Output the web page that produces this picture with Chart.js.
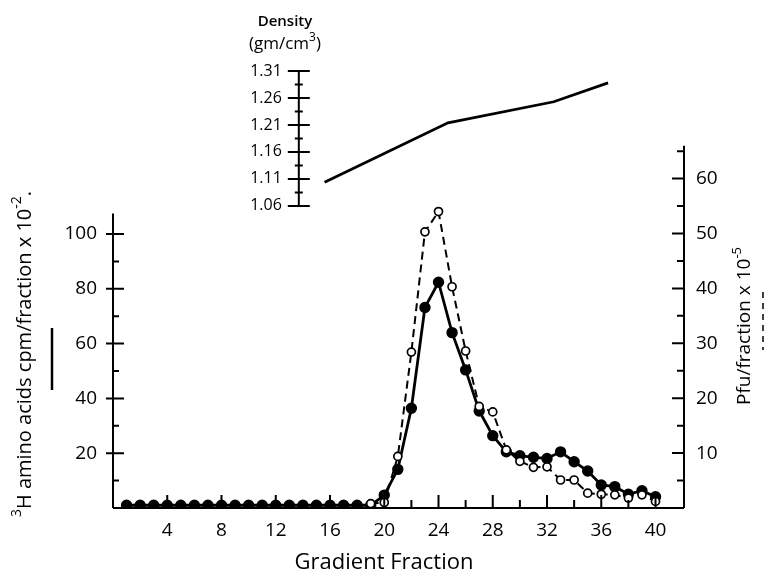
<!DOCTYPE html>
<html>
<head>
<meta charset="utf-8">
<script src="https://cdn.jsdelivr.net/npm/chart.js@4"></script>
<style>
  body { margin: 0; background: #fff; }
  canvas { display: block; }
</style>
</head>
<body>
<canvas id="chart1" width="767" height="571"></canvas>
<script>
// gradient fractions 1..40
const fractions = [1,2,3,4,5,6,7,8,9,10,11,12,13,14,15,16,17,18,19,20,21,22,23,24,25,26,27,28,29,30,31,32,33,34,35,36,37,38,39,40];
// 3H amino acids cpm/fraction x 10^-2 (solid, filled circles)
const cpm = [1,1,1,1,1,1,1,1,1,1,1,1,1,1,1,1,1,1,1,4.7,14.1,36.4,73.2,82.4,64.0,50.4,35.4,26.4,20.5,19.1,18.5,18.1,20.5,16.9,13.5,8.4,7.8,5.0,6.3,4.1];
// Pfu/fraction x 10^-5 (dashed, open circles)
const pfu = [null,null,null,null,null,null,null,null,null,null,null,null,null,null,null,null,null,null,0.8,1.0,9.4,28.4,50.3,54.0,40.3,28.6,18.5,17.5,10.6,8.5,7.4,7.5,5.1,5.1,2.7,2.5,2.4,1.8,2.4,1.2];
// density curve
const densityFractions = [15.6, 24.7, 32.5, 36.5];
const densityValues = [1.104, 1.214, 1.253, 1.288];

const xTicks = [4,8,12,16,20,24,28,32,36,40];
const leftTicks = [20,40,60,80,100];
const rightTicks = [10,20,30,40,50,60];
const densityTicks = [1.06,1.11,1.16,1.21,1.26,1.31];

const FONT = "'Open Sans', 'DejaVu Sans', sans-serif";

function pts(xs, ys) {
  return xs.map((x, i) => ({x: x, y: ys[i]}));
}

// draw text with superscript parts, centred at (0,0) of current transform
function drawRich(ctx, parts, size) {
  let total = 0;
  const widths = parts.map(p => {
    ctx.font = (p.sup ? Math.round(size * 0.7) : size) + "px " + FONT;
    const w = ctx.measureText(p.t).width;
    total += w;
    return w;
  });
  let x = -total / 2;
  parts.forEach((p, i) => {
    ctx.font = (p.sup ? Math.round(size * 0.7) : size) + "px " + FONT;
    ctx.fillText(p.t, x, p.sup ? -size * 0.4 : 0);
    x += widths[i];
  });
}

const frame = {
  id: "frame",
  afterDraw(chart) {
    const ctx = chart.ctx;
    const xs = chart.scales.x, yl = chart.scales.y, yr = chart.scales.y2, yd = chart.scales.yd;
    const area = chart.chartArea;
    ctx.save();
    ctx.strokeStyle = "#000";
    ctx.fillStyle = "#000";
    ctx.lineWidth = 2;
    ctx.lineCap = "butt";

    // x axis
    const y0 = yl.getPixelForValue(0);
    ctx.beginPath();
    ctx.moveTo(area.left, y0); ctx.lineTo(area.right, y0);
    for (let v = 2; v <= 40; v += 2) {
      const px = xs.getPixelForValue(v);
      ctx.moveTo(px, y0); ctx.lineTo(px, y0 - (v % 4 === 0 ? 13 : 8));
    }
    // left axis
    const xl = area.left;
    ctx.moveTo(xl, y0); ctx.lineTo(xl, yl.getPixelForValue(107.5));
    for (let v = 10; v <= 100; v += 10) {
      const py = yl.getPixelForValue(v);
      if (v % 20 === 0) { ctx.moveTo(xl - 7, py); ctx.lineTo(xl + 11, py); }
      else { ctx.moveTo(xl, py); ctx.lineTo(xl + 6, py); }
    }
    // right axis
    const xr = area.right;
    ctx.moveTo(xr, y0); ctx.lineTo(xr, yr.getPixelForValue(66));
    for (let v = 5; v <= 65; v += 5) {
      const py = yr.getPixelForValue(v);
      ctx.moveTo(xr, py); ctx.lineTo(xr - (v % 10 === 0 ? 12 : 7), py);
    }
    // density axis
    const xd = xs.getPixelForValue(13.7);
    ctx.moveTo(xd, yd.getPixelForValue(1.06)); ctx.lineTo(xd, yd.getPixelForValue(1.31));
    for (let i = 0; i <= 10; i++) {
      const v = 1.06 + i * 0.025;
      const py = yd.getPixelForValue(v);
      const h = i % 2 === 0 ? 11 : 4;
      ctx.moveTo(xd - h, py); ctx.lineTo(xd + h, py);
    }
    ctx.stroke();

    // density tick labels
    ctx.font = "16px " + FONT;
    ctx.textAlign = "right";
    ctx.textBaseline = "middle";
    densityTicks.forEach(v => {
      ctx.fillText(v.toFixed(2), xd - 17, yd.getPixelForValue(v));
    });

    // legend markers
    ctx.lineWidth = 2.5;
    ctx.beginPath();
    ctx.moveTo(52, 328); ctx.lineTo(52, 390);
    ctx.stroke();
    ctx.lineWidth = 1.5;
    ctx.setLineDash([6, 5]);
    ctx.beginPath();
    ctx.moveTo(763, 292); ctx.lineTo(763, 350);
    ctx.stroke();
    ctx.setLineDash([]);

    // titles
    ctx.textAlign = "left";
    ctx.textBaseline = "middle";
    ctx.save();
    ctx.translate(384, 563);
    drawRich(ctx, [{t: "Gradient Fraction"}], 22);
    ctx.restore();

    ctx.save();
    ctx.translate(25, 354);
    ctx.rotate(-Math.PI / 2);
    drawRich(ctx, [{t: "3", sup: true}, {t: "H amino acids cpm/fraction x 10"}, {t: "-2", sup: true}, {t: "."}], 20);
    ctx.restore();

    ctx.save();
    ctx.translate(745, 326);
    ctx.rotate(-Math.PI / 2);
    drawRich(ctx, [{t: "Pfu/fraction x 10"}, {t: "-5", sup: true}], 19);
    ctx.restore();

    ctx.save();
    ctx.translate(285, 22);
    ctx.font = "600 15px " + FONT;
    ctx.textAlign = "center";
    ctx.fillText("Density", 0, 0);
    ctx.restore();
    ctx.save();
    ctx.translate(285, 44);
    drawRich(ctx, [{t: "(gm/cm"}, {t: "3", sup: true}, {t: ")"}], 17);
    ctx.restore();

    ctx.restore();
  }
};

const tickFont = {family: FONT, size: 19};

new Chart(document.getElementById("chart1").getContext("2d"), {
  type: "line",
  data: {
    datasets: [
      {
        label: "Pfu",
        data: pts(fractions, pfu),
        yAxisID: "y2",
        borderColor: "#000",
        borderWidth: 2,
        borderDash: [8, 5],
        pointRadius: 4,
        pointBackgroundColor: "#fff",
        pointBorderColor: "#000",
        pointBorderWidth: 1.7,
        tension: 0,
        spanGaps: false
      },
      {
        label: "3H amino acids",
        data: pts(fractions, cpm),
        yAxisID: "y",
        borderColor: "#000",
        borderWidth: 2.8,
        pointRadius: 4.3,
        pointBackgroundColor: "#000",
        pointBorderColor: "#000",
        tension: 0
      },
      {
        label: "Density",
        data: pts(densityFractions, densityValues),
        yAxisID: "yd",
        borderColor: "#000",
        borderWidth: 2.8,
        pointRadius: 0,
        tension: 0
      }
    ]
  },
  options: {
    responsive: false,
    animation: false,
    layout: {padding: {top: 71, left: 0, right: 0, bottom: 0}},
    plugins: {legend: {display: false}, tooltip: {enabled: false}, title: {display: false}},
    scales: {
      x: {
        type: "linear", position: "bottom", min: 0, max: 42.1,
        grid: {display: false}, border: {display: false},
        afterBuildTicks: s => { s.ticks = xTicks.map(v => ({value: v})); },
        afterFit: s => { s.height = 63; },
        ticks: {color: "#000", font: tickFont, padding: 3, maxRotation: 0}
      },
      y: {
        type: "linear", position: "left", min: 0, max: 159.5,
        grid: {display: false}, border: {display: false},
        afterBuildTicks: s => { s.ticks = leftTicks.map(v => ({value: v})); },
        afterFit: s => { s.width = 113; },
        ticks: {color: "#000", font: tickFont, padding: 8}
      },
      y2: {
        type: "linear", position: "right", min: 0, max: 79.6,
        grid: {display: false}, border: {display: false},
        afterBuildTicks: s => { s.ticks = rightTicks.map(v => ({value: v})); },
        afterFit: s => { s.width = 83; },
        ticks: {color: "#000", font: tickFont, padding: 4}
      },
      yd: {
        type: "linear", position: {x: 13.7}, min: 0.5, max: 1.31, display: false
      }
    }
  },
  plugins: [frame]
});
</script>
</body>
</html>
